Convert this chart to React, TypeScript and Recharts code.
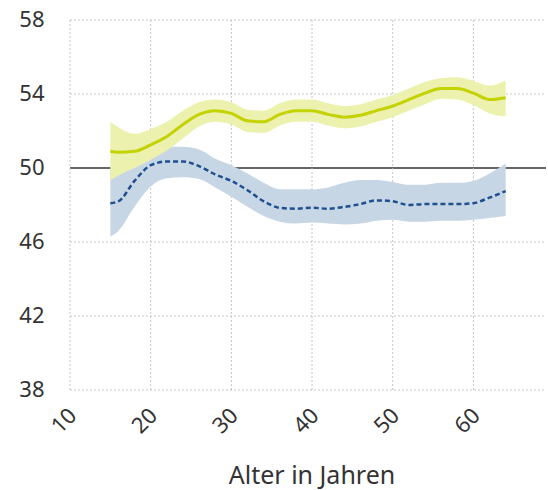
import React from 'react'
import {
  ComposedChart,
  Area,
  Line,
  XAxis,
  YAxis,
  CartesianGrid,
  ReferenceLine,
} from 'recharts'

// ages (x values)
const AGES = [15, 16, 18, 20, 22, 24, 26, 28, 30, 32, 34, 36, 38, 40, 42, 44, 46, 48, 50, 52, 54, 56, 58, 60, 62, 64]

// yellow-green series: mean + band
const GREEN_MEAN = [50.9, 50.85, 50.9, 51.25, 51.7, 52.35, 52.9, 53.1, 52.95, 52.55, 52.5, 52.9, 53.1, 53.1, 52.9, 52.75, 52.85, 53.1, 53.35, 53.7, 54.05, 54.3, 54.3, 54.05, 53.7, 53.8]
const GREEN_LO = [49.35, 49.6, 50.0, 50.45, 50.95, 51.6, 52.25, 52.5, 52.35, 51.95, 51.9, 52.3, 52.5, 52.5, 52.3, 52.15, 52.25, 52.5, 52.75, 53.1, 53.45, 53.75, 53.7, 53.4, 52.95, 52.8]
const GREEN_HI = [52.5, 52.2, 51.85, 52.1, 52.5, 53.1, 53.55, 53.7, 53.55, 53.15, 53.1, 53.5, 53.7, 53.7, 53.5, 53.35, 53.45, 53.7, 53.95, 54.3, 54.65, 54.85, 54.9, 54.7, 54.45, 54.75]

// blue series: mean + band
const BLUE_MEAN = [48.1, 48.2, 49.3, 50.15, 50.35, 50.35, 50.1, 49.65, 49.3, 48.8, 48.2, 47.85, 47.8, 47.85, 47.8, 47.9, 48.05, 48.25, 48.2, 48.0, 48.05, 48.05, 48.05, 48.1, 48.4, 48.75]
const BLUE_LO = [46.3, 46.6, 47.9, 49.0, 49.45, 49.5, 49.4, 48.95, 48.45, 47.9, 47.4, 47.1, 47.0, 47.05, 47.0, 46.95, 47.0, 47.15, 47.2, 47.1, 47.1, 47.15, 47.15, 47.2, 47.3, 47.4]
const BLUE_HI = [49.9, 49.9, 50.6, 51.0, 51.15, 51.15, 51.0, 50.5, 50.15, 49.7, 49.2, 48.85, 48.85, 48.85, 48.95, 49.2, 49.35, 49.35, 49.25, 49.1, 49.1, 49.2, 49.2, 49.3, 49.7, 50.25]

// reference level
const REF_LEVEL = 50

const X_TICKS = [10, 20, 30, 40, 50, 60]
const Y_TICKS = [38, 42, 46, 50, 54, 58]
const GRID_Y = Y_TICKS.filter((v) => v !== REF_LEVEL)

const rows = AGES.map((age, i) => ({
  age,
  green: GREEN_MEAN[i],
  greenBand: [GREEN_LO[i], GREEN_HI[i]],
  blue: BLUE_MEAN[i],
  blueBand: [BLUE_LO[i], BLUE_HI[i]],
}))

const FONT = '"Noto Sans", sans-serif'
const W = 548
const H = 490
const MARGIN = { top: 20, right: 2, bottom: 0, left: 0 }

function YTick({ y, payload }: any) {
  return (
    <text x={44.5} y={y} dy={7} textAnchor="end" fill="#333" fontSize={22} fontFamily={FONT}>
      {payload.value}
    </text>
  )
}

function XTick({ x, payload }: any) {
  const ax = x + 8
  const ay = 417
  return (
    <text
      x={ax}
      y={ay}
      textAnchor="end"
      fill="#333"
      fontSize={22}
      fontFamily={FONT}
      transform={`rotate(-45, ${ax}, ${ay})`}
    >
      {payload.value}
    </text>
  )
}

const layer: React.CSSProperties = { position: 'absolute', left: 0, top: 0 }

export default function App() {
  return (
    <div style={{ ...layer, width: W, height: H, background: '#fff' }}>
      {/* bottom layer: only the reference line, so the bands of the main chart cover it */}
      <div style={{ ...layer, zIndex: 0 }}>
        <ComposedChart width={W} height={H} data={rows} margin={MARGIN}>
          <XAxis dataKey="age" type="number" domain={[10, 69]} ticks={X_TICKS} axisLine={false} tickLine={false} tick={false} height={100} />
          <YAxis type="number" domain={[38, 58]} ticks={Y_TICKS} axisLine={false} tickLine={false} tick={false} width={70} />
          <Line dataKey="green" stroke="transparent" dot={false} activeDot={false} isAnimationActive={false} />
          <ReferenceLine y={REF_LEVEL} stroke="#666" strokeWidth={2} />
        </ComposedChart>
      </div>

      {/* main chart */}
      <div style={{ ...layer, zIndex: 1 }}>
        <ComposedChart width={W} height={H} data={rows} margin={MARGIN}>
          <CartesianGrid
            stroke="#c4c4c4"
            strokeDasharray="2 2"
            verticalValues={X_TICKS}
            horizontalValues={GRID_Y}
          />
          <XAxis
            dataKey="age"
            type="number"
            domain={[10, 69]}
            ticks={X_TICKS}
            axisLine={false}
            tickLine={false}
            height={100}
            tick={<XTick />}
            interval={0}
            label={{
              value: 'Alter in Jahren',
              position: 'insideBottom',
              offset: 6,
              dx: 4,
              fill: '#333',
              fontSize: 25,
              fontFamily: FONT,
            }}
          />
          <YAxis
            type="number"
            domain={[38, 58]}
            ticks={Y_TICKS}
            axisLine={false}
            tickLine={false}
            width={70}
            tick={<YTick />}
            interval={0}
          />
          <Area
            type="monotone"
            dataKey="blueBand"
            stroke="none"
            fill="rgb(199, 214, 229)"
            fillOpacity={1}
            isAnimationActive={false}
          />
          <Area
            type="monotone"
            dataKey="greenBand"
            stroke="none"
            fill="rgb(236, 241, 173)"
            fillOpacity={1}
            isAnimationActive={false}
          />
          <Line
            type="monotone"
            dataKey="blue"
            stroke="#1f4f8f"
            strokeWidth={2.5}
            strokeDasharray="5 3"
            dot={false}
            isAnimationActive={false}
          />
          <Line
            type="monotone"
            dataKey="green"
            stroke="#c3d200"
            strokeWidth={3}
            dot={false}
            isAnimationActive={false}
          />
        </ComposedChart>
      </div>
    </div>
  )
}
